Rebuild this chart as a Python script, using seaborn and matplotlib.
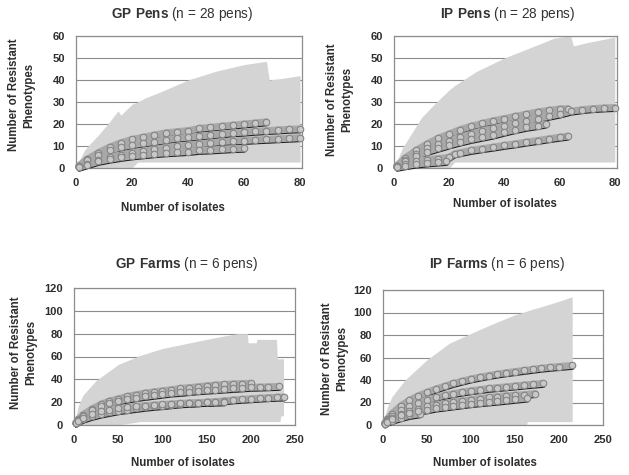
import numpy as np
import pandas as pd
import matplotlib
matplotlib.use("Agg")
import matplotlib.pyplot as plt
import matplotlib.transforms as mtransforms
import seaborn as sns


# Rarefaction curves (isolates vs resistant phenotypes)

# GP Pens
gp_pens_x1 = [1, 4, 8, 12, 16, 20, 24, 28, 32, 36, 40, 44, 48, 52, 56, 60, 64, 68]
gp_pens_y1 = [1, 4, 7, 9.5, 11.5, 13, 14, 15, 16, 16.5, 17, 18, 18.5, 19, 19.5, 20, 20.5, 21]
gp_pens_x2 = [1, 4, 8, 12, 16, 20, 24, 28, 32, 36, 40, 44, 48, 52, 56, 60, 64, 68, 72, 76, 80]
gp_pens_y2 = [1, 3.5, 6, 8, 9.5, 10.5, 11.3, 12, 12.8, 13.5, 14, 14.5, 15, 15.5, 16, 16.3, 16.7, 17, 17.3, 17.6, 17.8]
gp_pens_x3 = [1, 4, 8, 12, 16, 20, 24, 28, 32, 36, 40, 44, 48, 52, 56, 60, 64, 68, 72, 76, 80]
gp_pens_y3 = [0.5, 2, 3.5, 5, 6, 7, 7.8, 8.5, 9.3, 10, 10.5, 11, 11.5, 12, 12.3, 12.5, 12.8, 13, 13.3, 13.5, 13.8]
gp_pens_x4 = [1, 4, 8, 12, 16, 20, 24, 28, 32, 36, 40, 44, 48, 52, 56, 60]
gp_pens_y4 = [0.3, 1.5, 3, 4, 4.8, 5.5, 6, 6.5, 6.9, 7.2, 7.5, 8, 8.2, 8.5, 8.8, 9]
gp_pens_band_x = [1, 3, 5, 8, 10, 12, 15, 16, 20, 22, 25, 30, 40, 50, 60, 68, 69, 75, 80]
gp_pens_band_lo = [0, 0, 0, 0, 0, 0, 0, 0, 0, 2.7, 2.7, 2.7, 2.7, 2.7, 2.7, 2.7, 2.7, 2.7, 2.7]
gp_pens_band_hi = [3, 8, 11, 15, 18, 21, 26, 24, 29, 30, 32, 34.5, 40, 44, 47, 48.5, 40, 41, 42]

# IP Pens
ip_pens_x1 = [1, 4, 8, 12, 16, 20, 24, 28, 32, 36, 40, 44, 48, 52, 56, 60, 63]
ip_pens_y1 = [1, 4.5, 8, 11, 13.5, 15.5, 17.5, 19, 20.3, 21.5, 22.5, 23.5, 24.5, 25.5, 26.2, 26.8, 27]
ip_pens_x2 = [1, 4, 8, 12, 16, 20, 24, 28, 32, 36, 40, 44, 48, 52, 56, 60, 64, 68, 72, 76, 80]
ip_pens_y2 = [1, 3.5, 6.5, 9, 11, 12.5, 14, 15.5, 17, 18, 19.3, 20.5, 21.5, 22.5, 23.5, 24.5, 25.8, 26.5, 27, 27.3, 27.5]
ip_pens_x3 = [1, 4, 8, 12, 16, 20, 24, 28, 32, 36, 40, 44, 48, 52, 55]
ip_pens_y3 = [0.8, 3, 5.5, 7.5, 9, 10.5, 11.8, 13, 14, 15, 16.3, 17.5, 18.5, 19.3, 20]
ip_pens_x4 = [1, 4, 8, 12, 16, 20, 22, 24, 28, 32, 36, 40, 44, 48, 52, 56, 60, 63]
ip_pens_y4 = [0.5, 2, 3, 3.8, 4.3, 4.8, 6.5, 7, 8, 8.8, 9.5, 10.3, 11, 11.8, 12.5, 13.3, 14, 14.5]
ip_pens_x5 = [1, 4, 8, 12, 16, 19]
ip_pens_y5 = [0.3, 1, 1.8, 2.3, 2.7, 3]
ip_pens_band_x = [1, 3, 5, 10, 15, 20, 22, 30, 40, 50, 58, 63, 64, 65, 70, 80]
ip_pens_band_lo = [0, 0, 0, 0, 0, 0, 2.7, 2.7, 2.7, 2.7, 2.7, 2.7, 2.7, 2.7, 2.7, 2.7]
ip_pens_band_hi = [3, 9, 13, 23, 29.5, 35.5, 37.5, 44, 50, 55, 59, 60, 60, 55.5, 57, 59.5]

# GP Farms
gp_farms_x1 = [2, 5, 10, 20, 30, 40, 50, 60, 70, 80, 90, 100, 110, 120, 130, 140, 150, 160, 170, 180, 190, 200]
gp_farms_y1 = [2, 5, 9, 14, 18, 21, 23, 25, 26.5, 28, 29, 30, 31, 32, 32.8, 33.5, 34.3, 35, 35.5, 36, 36.3, 36.5]
gp_farms_x2 = [2, 5, 10, 20, 30, 40, 50, 60, 70, 80, 90, 100, 110, 120, 130, 140, 150, 160, 170, 180, 190, 200, 210, 220, 232]
gp_farms_y2 = [2, 4.5, 8, 13, 16.5, 19, 21, 22.5, 24, 25, 26, 27, 28, 28.5, 29.3, 30, 30.5, 31, 31.5, 32, 32.5, 33, 33.2, 33.5, 33.8]
gp_farms_x3 = [2, 5, 10, 20, 30, 40, 50, 60, 70, 80, 90, 100, 110, 120, 130, 140, 150, 160, 170, 180, 190, 200, 210, 220, 230, 237]
gp_farms_y3 = [1.5, 3, 5, 7.5, 9.5, 11, 12.5, 13.5, 14.5, 15.5, 16.3, 17, 17.8, 18.5, 19, 19.5, 20, 20.5, 21.2, 22, 22.5, 23, 23.5, 24, 24.3, 24.5]
gp_farms_x4 = [2, 5, 10, 20, 30, 40, 50, 60, 70, 80, 90, 100, 110, 120, 130, 140, 150, 160, 170]
gp_farms_y4 = [1.5, 3.5, 6, 9.5, 12, 13.5, 14.5, 15.5, 16.3, 17, 17.5, 18, 18.5, 19, 19.3, 19.5, 19.8, 20, 20.3]
gp_farms_band_x = [1, 5, 10, 25, 50, 75, 100, 125, 150, 170, 185, 196, 197, 206, 207, 229, 230, 233, 234, 237]
gp_farms_band_lo = [0, 0, 0, 0, 0, 3, 3, 3, 3, 3, 3, 3, 3, 3, 3, 3, 3, 3, 8, 8]
gp_farms_band_hi = [4, 17, 26, 39, 53, 61, 67, 71, 75, 78, 80, 80, 72, 72, 75, 75, 58, 58, 58, 58]

# IP Farms
ip_farms_x1 = [2, 5, 10, 20, 30, 40, 50, 60, 70, 80, 90, 100, 110, 120, 130, 140, 150, 160, 170, 180, 190, 200, 215]
ip_farms_y1 = [2, 5.5, 10, 17, 22, 26, 29, 32, 34.5, 37, 39, 41, 42.5, 44, 45.3, 46.5, 47.5, 48.5, 49.5, 50.5, 51.3, 52, 53]
ip_farms_x2 = [2, 5, 10, 20, 30, 40, 50, 60, 70, 80, 90, 100, 110, 120, 130, 140, 150, 160, 170, 182]
ip_farms_y2 = [1.5, 4.5, 8, 13, 17, 20, 22.5, 24.5, 26.3, 28, 29.3, 30.5, 31.5, 32.5, 33.3, 34, 34.7, 35.5, 36.2, 37]
ip_farms_x3 = [2, 5, 10, 20, 30, 40, 50, 60, 70, 80, 90, 100, 110, 120, 130, 140, 150, 160, 173]
ip_farms_y3 = [1.5, 3.5, 6, 10, 12.5, 14.5, 16.5, 18, 19.3, 20.5, 21.5, 22.5, 23.5, 24.5, 25.3, 26, 26.5, 27, 28]
ip_farms_x4 = [2, 5, 10, 20, 30, 42]
ip_farms_y4 = [1, 2.5, 4, 6.5, 8.5, 10]
ip_farms_x5 = [2, 5, 10, 20, 30, 40, 50, 60, 70, 80, 90, 100, 110, 120, 130, 140, 150, 164]
ip_farms_y5 = [1, 3, 5, 8.5, 11, 12.5, 13.5, 15, 16, 17, 18, 19, 19.8, 20.5, 21.2, 22, 22.8, 24]
ip_farms_band_x = [1, 5, 10, 25, 50, 75, 100, 125, 150, 163, 164, 175, 200, 215]
ip_farms_band_lo = [0, 0, 0, 0, 0, 0, 0, 0, 0, 0, 3, 3, 3, 3]
ip_farms_band_hi = [4, 16, 25, 40, 58, 72.5, 81.5, 90, 98, 101, 101.5, 104, 110, 114]


# Style

sns.set_theme(style="white")
plt.rcParams["font.family"] = ["Liberation Sans", "DejaVu Sans"]
plt.rcParams["mathtext.fontset"] = "custom"
plt.rcParams["mathtext.rm"] = "Liberation Sans"
plt.rcParams["mathtext.bf"] = "Liberation Sans:bold"

band_color = "#d4d4d4"
text_color = "#2e2e2e"

fig = plt.figure(figsize=(6.29, 4.75), dpi=100)


def draw_panel(rect, curves, band, xlim, ylim, yticks, xticks, title, title_xy,
               ylab_xy, xlab_xy):
    ax = fig.add_axes(rect)
    bx, blo, bhi = band
    ax.fill_between(bx, blo, bhi, color=band_color, lw=0, zorder=1)

    # dark line drawn slightly below the markers, like the original's shadow
    shadow = mtransforms.offset_copy(ax.transData, fig=fig, x=0.5, y=-2.8, units="dots")
    for cx, cy in curves:
        df = pd.DataFrame({"x": cx, "y": cy})
        sns.lineplot(data=df, x="x", y="y", ax=ax, color="#1e1e1e", lw=2.4,
                     transform=shadow, zorder=3, clip_on=False)
        sns.lineplot(data=df, x="x", y="y", ax=ax, color="#a8a8a8", lw=5.0,
                     zorder=3.5, clip_on=False)
        sns.scatterplot(data=df, x="x", y="y", ax=ax, s=22, color="#c8c8c8",
                        edgecolor="#858585", linewidth=0.8, zorder=4, clip_on=False)

    ax.set_xlim(*xlim)
    ax.set_ylim(*ylim)
    ax.set_xticks(xticks)
    ax.set_yticks(yticks)
    ax.set_xlabel("")
    ax.set_ylabel("")
    ax.grid(axis="y", color="#8c8c8c", lw=0.8, zorder=0)
    ax.set_axisbelow(True)
    for s in ax.spines.values():
        s.set_color("#8c8c8c")
        s.set_linewidth(0.9)
    ax.tick_params(axis="both", length=0, labelsize=8, colors=text_color)
    ax.tick_params(axis="x", pad=7)
    ax.tick_params(axis="y", pad=8)
    for lab in ax.get_xticklabels() + ax.get_yticklabels():
        lab.set_fontweight("bold")

    ax.text(ylab_xy[0], ylab_xy[1], "Number of Resistant\nPhenotypes",
            transform=ax.transAxes, rotation=90, ha="center", va="center",
            fontsize=8.3, fontweight="bold", color=text_color, linespacing=1.35)
    ax.text(xlab_xy[0], xlab_xy[1], "Number of isolates", transform=ax.transAxes,
            ha="center", va="center", fontsize=8.3, fontweight="bold", color=text_color)
    fig.text(title_xy[0] / 629, 1 - title_xy[1] / 475, title, ha="center", va="center",
             fontsize=9.8, color="#333333")
    return ax


draw_panel([76 / 629, 1 - 168 / 475, 226 / 629, 132 / 475],
           [(gp_pens_x1, gp_pens_y1), (gp_pens_x2, gp_pens_y2),
            (gp_pens_x3, gp_pens_y3), (gp_pens_x4, gp_pens_y4)],
           (gp_pens_band_x, gp_pens_band_lo, gp_pens_band_hi),
           (0, 80.7), (0, 60), [0, 10, 20, 30, 40, 50, 60], [0, 20, 40, 60, 80],
           r"$\bf{GP\ Pens}$ (n = 28 pens)", (182, 14), (-0.239, 0.553), (0.43, -0.303))

draw_panel([394 / 629, 1 - 168 / 475, 223 / 629, 132 / 475],
           [(ip_pens_x1, ip_pens_y1), (ip_pens_x2, ip_pens_y2), (ip_pens_x3, ip_pens_y3),
            (ip_pens_x4, ip_pens_y4), (ip_pens_x5, ip_pens_y5)],
           (ip_pens_band_x, ip_pens_band_lo, ip_pens_band_hi),
           (0, 80.8), (0, 60), [0, 10, 20, 30, 40, 50, 60], [0, 20, 40, 60, 80],
           r"$\bf{IP\ Pens}$ (n = 28 pens)", (508, 14), (-0.242, 0.52), (0.498, -0.273))

draw_panel([74 / 629, 1 - 425 / 475, 221 / 629, 137 / 475],
           [(gp_farms_x1, gp_farms_y1), (gp_farms_x2, gp_farms_y2),
            (gp_farms_x3, gp_farms_y3), (gp_farms_x4, gp_farms_y4)],
           (gp_farms_band_x, gp_farms_band_lo, gp_farms_band_hi),
           (0, 250), (0, 120), [0, 20, 40, 60, 80, 100, 120], [0, 50, 100, 150, 200, 250],
           r"$\bf{GP\ Farms}$ (n = 6 pens)", (187, 264), (-0.226, 0.53), (0.493, -0.277))

draw_panel([383 / 629, 1 - 425 / 475, 220 / 629, 135 / 475],
           [(ip_farms_x1, ip_farms_y1), (ip_farms_x2, ip_farms_y2), (ip_farms_x3, ip_farms_y3),
            (ip_farms_x4, ip_farms_y4), (ip_farms_x5, ip_farms_y5)],
           (ip_farms_band_x, ip_farms_band_lo, ip_farms_band_hi),
           (0, 250), (0, 120), [0, 20, 40, 60, 80, 100, 120], [0, 50, 100, 150, 200, 250],
           r"$\bf{IP\ Farms}$ (n = 6 pens)", (497, 264), (-0.218, 0.49), (0.464, -0.281))

fig.savefig("out.png", dpi=100)
